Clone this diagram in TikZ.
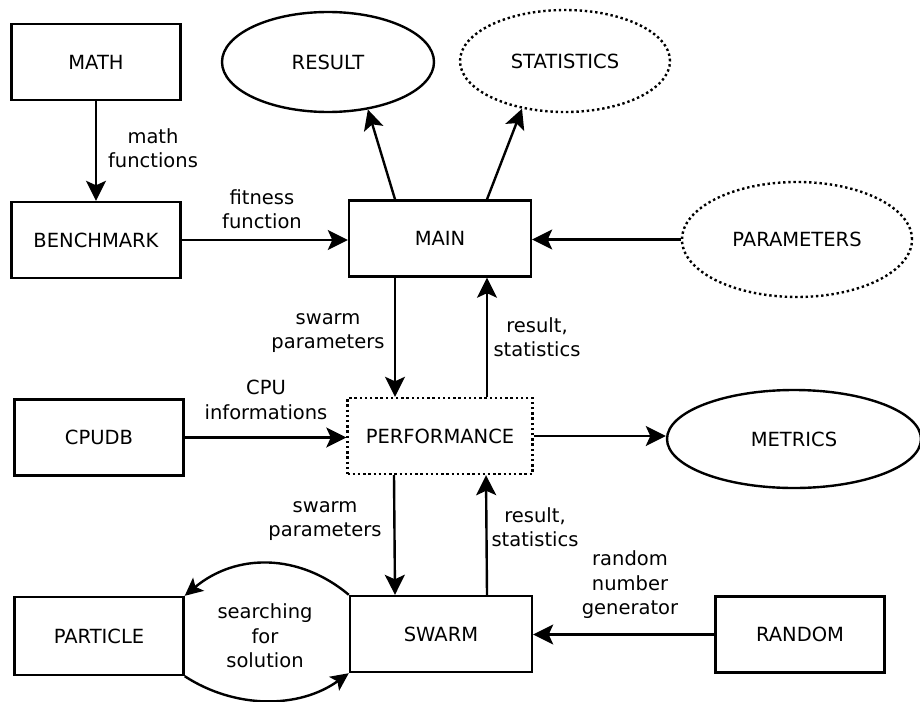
\documentclass[tikz,border=0pt]{standalone}
\usepackage{fontspec}
\setmainfont{DejaVu Sans}
\usetikzlibrary{arrows.meta,shapes.geometric}
\begin{document}
\begin{tikzpicture}[x=1pt,y=-1pt,
  font=\fontsize{19.5}{24.5}\selectfont,
  box/.style={draw,line width=2.4pt,inner sep=0pt,minimum width=169pt,minimum height=76pt},
  wbox/.style={box,minimum width=182pt},
  dots/.style={dash pattern=on 2.4pt off 2.8pt},
  oval/.style={draw,ellipse,line width=2.4pt,inner sep=0pt},
  lbl/.style={align=center,inner sep=0pt},
  tipstyle/.tip={Stealth[length=20pt,width=20pt,inset=4.5pt]},
  arr/.style={line width=2.4pt,-tipstyle},
  curvearr/.style={line width=2.4pt,-{Stealth[length=18pt,width=17pt,inset=4pt]}}
]
\useasboundingbox (0,0) rectangle (920,701);

% nodes
\node[box] (math) at (96,62) {MATH};
\node[box] (bench) at (96,240) {BENCHMARK};
\node[wbox] (main) at (440,238.5) {MAIN};
\node[wbox,dots,minimum width=185pt] (perf) at (440,436) {PERFORMANCE};
\node[box] (cpudb) at (99,437.5) {CPUDB};
\node[wbox] (swarm) at (441,634) {SWARM};
\node[box,minimum height=78pt] (particle) at (99,636) {PARTICLE};
\node[box] (random) at (800,634.5) {RANDOM};
\node[oval,minimum width=212pt,minimum height=100pt] (result) at (328,62) {RESULT};
\node[oval,dots,minimum width=210pt,minimum height=102pt] (stats) at (565,61) {STATISTICS};
\node[oval,dots,minimum width=230pt,minimum height=115pt] (params) at (797,239.5) {PARAMETERS};
\node[oval,minimum width=254pt,minimum height=98pt] (metrics) at (794,439) {METRICS};

% labels
\node[lbl] (lmath) at (153,148) {math\\functions};
\node[lbl] (lfit) at (262,209) {fitness\\function};
\node[lbl] (lsp1) at (328,333) {swarm\\parameters};
\node[lbl] (lrs1) at (537,337) {result,\\statistics};
\node[lbl] (lcpu) at (266,400) {CPU\\informations};
\node[lbl] (lsp2) at (325,521) {swarm\\parameters};
\node[lbl] (lrs2) at (535,527) {result,\\statistics};
\node[lbl] (lrand) at (630,585) {random\\number\\generator};
\node[lbl] (lsearch) at (265,636) {searching\\for\\solution};

% connectors
\draw[arr] (math.south) -- (bench.north);
\draw[arr] (bench.east) -- (bench.east -| main.west);
\draw[arr] (params.west) -- (params.west -| main.east);
\draw[arr] ([xshift=-45pt]main.north) -- (result.-50);
\draw[arr] ([xshift=47pt]main.north) -- (stats.-132);
\draw[arr] ([xshift=-45pt]main.south) -- ([xshift=-45pt]perf.north);
\draw[arr] ([xshift=47pt]perf.north) -- ([xshift=47pt]main.south);
\draw[arr] (cpudb.east) -- (cpudb.east -| perf.west);
\draw[arr] (perf.east) -- (perf.east -| metrics.west);
\draw[arr] ([xshift=-46pt]perf.south) -- ([xshift=-46pt]swarm.north);
\draw[arr] ([xshift=46pt]swarm.north) -- ([xshift=46pt]perf.south);
\draw[arr] (random.west) -- (random.west -| swarm.east);
\draw[curvearr] (swarm.north west) .. controls (299,553) and (236,553) .. (particle.north east);
\draw[curvearr] (particle.south east) .. controls (235,709) and (299,709) .. (swarm.south west);
\end{tikzpicture}
\end{document}
